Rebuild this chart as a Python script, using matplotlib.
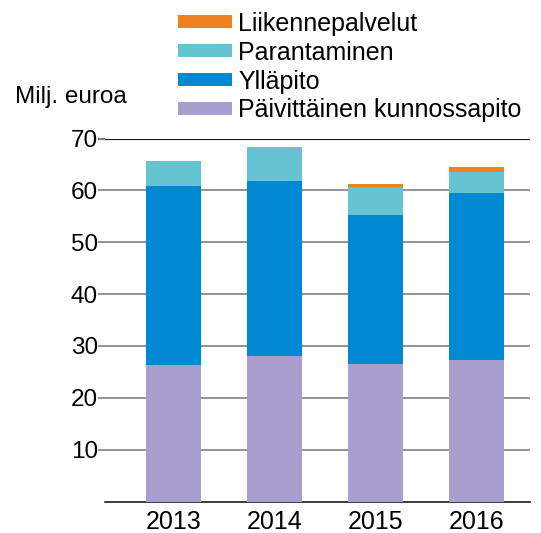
import matplotlib
matplotlib.use("Agg")
import matplotlib.pyplot as plt
import numpy as np

plt.rcParams['font.family'] = ['Liberation Sans', 'DejaVu Sans']

years = ["2013", "2014", "2015", "2016"]
paivittainen = [26.4, 28.0, 26.6, 27.2]
yllapito = [34.5, 33.8, 28.7, 32.3]
parantaminen = [4.8, 6.6, 5.3, 4.1]
liikenne = [0.0, 0.0, 0.6, 0.9]

series_names = ["Päivittäinen kunnossapito", "Ylläpito", "Parantaminen", "Liikennepalvelut"]
colors = ["#A89FCF", "#0089D3", "#66C3D1", "#EE8120"]
yticks = [10, 20, 30, 40, 50, 60, 70]

fig = plt.figure(figsize=(5.41, 5.33), dpi=100)
ax = fig.add_axes([105/541, 1 - 501.5/533, (530 - 105)/541, (501.5 - 138.5)/533])

x = np.arange(len(years))
bottom = np.zeros(len(years))
handles = []
for vals, name, col in zip([paivittainen, yllapito, parantaminen, liikenne], series_names, colors):
    b = ax.bar(x, vals, width=0.545, bottom=bottom, color=col, label=name, zorder=3)
    handles.append(b)
    bottom += np.array(vals)

ax.set_xlim(-0.68, 3.53)
ax.set_ylim(0, 70)
ax.set_yticks(yticks)
ax.set_yticklabels([str(v) for v in yticks], fontsize=17.5)
ax.set_xticks(x)
ax.set_xticklabels(years, fontsize=18)
ax.tick_params(axis='x', length=0, pad=6)
ax.tick_params(axis='y', length=5, color='#808080', width=1.2, pad=0)

ax.yaxis.grid(True, color='#808080', linewidth=1.2, zorder=0)
ax.set_axisbelow(True)
ax.get_ygridlines()[-1].set_color('#1a1a1a')
ax.get_ygridlines()[-1].set_linewidth(1.6)
ax.yaxis.get_major_ticks()[-1].tick1line.set_color('#1a1a1a')
ax.yaxis.get_major_ticks()[-1].tick1line.set_markeredgewidth(1.6)

for s in ['left', 'right', 'top']:
    ax.spines[s].set_visible(False)
ax.spines['bottom'].set_color('#1a1a1a')
ax.spines['bottom'].set_linewidth(1.2)

fig.text(15/541, 1 - 103/533, "Milj. euroa", fontsize=17.5, ha='left', va='baseline')

leg = fig.legend(handles[::-1], series_names[::-1], loc='upper left',
                 bbox_to_anchor=(178/541, 1 - 11.5/533), frameon=False, fontsize=18,
                 handlelength=2.16, handleheight=0.38, handletextpad=0.24,
                 labelspacing=0.2, borderpad=0, borderaxespad=0)

fig.savefig("out.png", dpi=100)
